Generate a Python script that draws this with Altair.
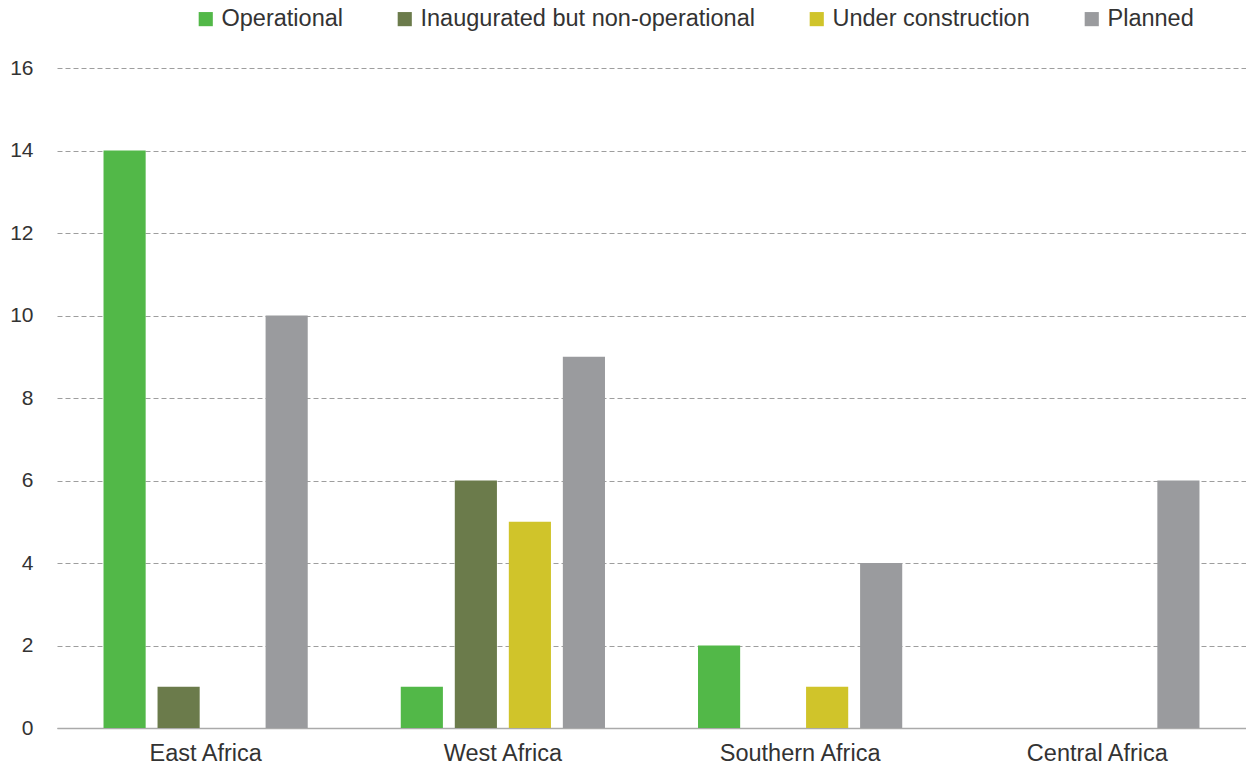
import altair as alt
import pandas as pd

regions = ["East Africa", "West Africa", "Southern Africa", "Central Africa"]
statuses = ["Operational", "Inaugurated but non-operational", "Under construction", "Planned"]
colors = ["#52b848", "#6b7b4b", "#d0c42a", "#9a9b9e"]

operational = [14, 1, 2, None]
inaugurated = [1, 6, None, None]
under_construction = [None, 5, 1, None]
planned = [10, 9, 4, 6]

rows = []
for series, name in zip([operational, inaugurated, under_construction, planned], statuses):
    for r, v in zip(regions, series):
        if v is not None:
            rows.append({"region": r, "status": name, "value": v})
df = pd.DataFrame(rows)

font = "Liberation Sans"
txt = "#333333"

chart = alt.Chart(df).mark_bar().encode(
    x=alt.X("region:N", sort=regions,
            scale=alt.Scale(domain=regions, paddingInner=0.273, paddingOuter=0.1365),
            axis=alt.Axis(title=None, labelAngle=0, ticks=False, labelPadding=13,
                          labelFontSize=23.5, labelColor=txt, labelFont=font,
                          domainColor="#aaaaaa", domainWidth=1.5, grid=False)),
    xOffset=alt.XOffset("status:N", sort=statuses,
                        scale=alt.Scale(domain=statuses, paddingInner=0.22, paddingOuter=0.11)),
    y=alt.Y("value:Q", scale=alt.Scale(domain=[0, 16]),
            axis=alt.Axis(title=None, values=[0, 2, 4, 6, 8, 10, 12, 14, 16], ticks=False,
                          domain=False, labelPadding=24, labelFontSize=21,
                          labelColor=txt, labelFont=font,
                          grid=True, gridDash=[5, 3], gridColor="#9e9e9e", gridWidth=1)),
    color=alt.Color("status:N", sort=statuses,
                    scale=alt.Scale(domain=statuses, range=colors),
                    legend=alt.Legend(title=None, orient="none", direction="horizontal",
                                      legendX=137, legendY=-61, symbolType="square",
                                      symbolSize=200, symbolStrokeWidth=0, labelFontSize=23.5,
                                      labelFont=font, labelColor=txt, labelLimit=0,
                                      columnPadding=50, labelOffset=4)),
).properties(
    width=1189, height=660,
    padding={"left": 9, "top": 7, "right": 0, "bottom": 0},
).configure_view(stroke=None).configure_axis(
    gridCap="butt"
).configure_axisY(zindex=0)

chart.save("out.html", embed_options={"renderer": "svg", "actions": False})
